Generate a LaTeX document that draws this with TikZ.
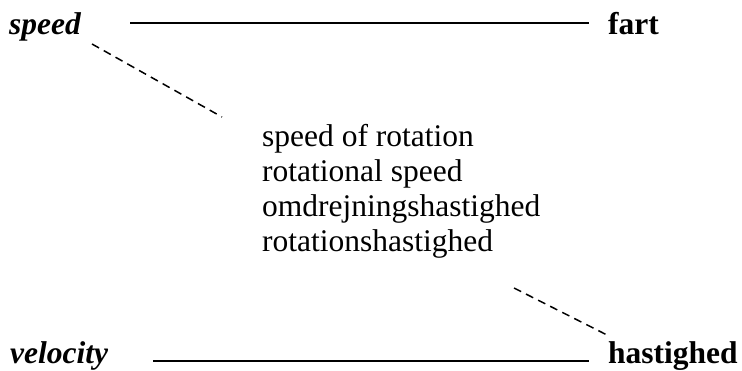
\documentclass[tikz,border=0pt]{standalone}
\usepackage{fontspec}
\setmainfont{Liberation Serif}
\begin{document}
\begin{tikzpicture}[x=1pt,y=-1pt,
  lbl/.style={inner sep=0pt,anchor=base west,font=\fontsize{31.5}{35}\selectfont},
  term/.style={lbl,font=\fontsize{31.5}{35}\selectfont\bfseries\itshape},
  trans/.style={lbl,font=\fontsize{31.5}{35}\selectfont\bfseries},
  solidline/.style={line width=1.8pt},
  dashline/.style={line width=1.5pt,dash pattern=on 8pt off 5.5pt}]
\useasboundingbox (0,0) rectangle (742,371);
\node[term] (speed) at (9,35) {speed};
\node[trans] (fart) at (608,35) {fart};
\node[term] (velocity) at (10,363.5) {velocity};
\node[trans] (hastighed) at (608,363.5) {hastighed};
\node[lbl,align=left,anchor=north west] (mid) at (262,124)
  {speed of rotation\\rotational speed\\omdrejningshastighed\\rotationshastighed};
\coordinate (t1) at (130,23);
\coordinate (t2) at (589,23);
\coordinate (b1) at (153,361);
\coordinate (b2) at (589,361);
\coordinate (d1) at (92,44);
\coordinate (d2) at (222,117);
\coordinate (e1) at (514,288);
\coordinate (e2) at (609,336);
\draw[solidline] (t1) -- (t2);
\draw[solidline] (b1) -- (b2);
\draw[dashline] (d1) -- (d2);
\draw[dashline] (e1) -- (e2);
\end{tikzpicture}
\end{document}
